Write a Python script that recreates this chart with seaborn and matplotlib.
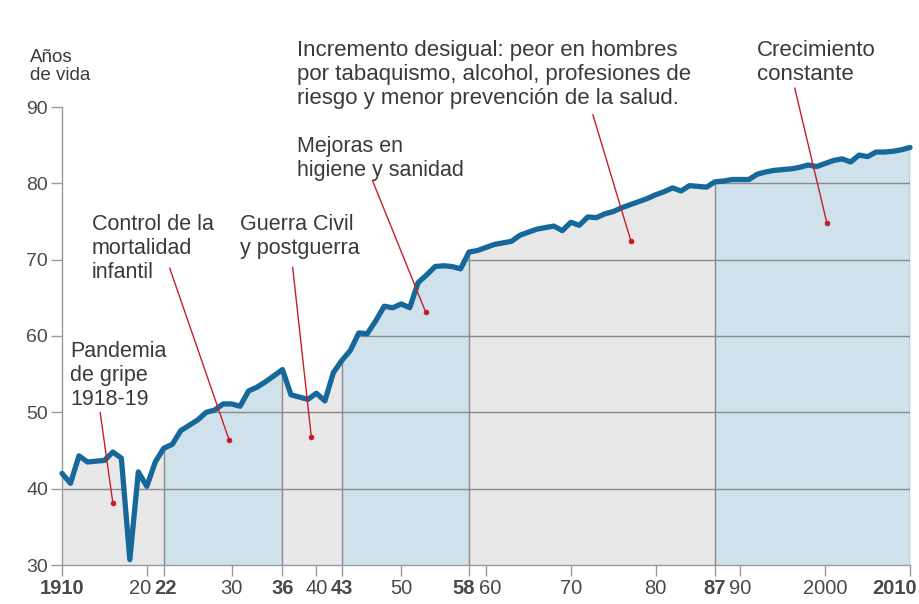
import matplotlib; matplotlib.use("Agg")
import matplotlib.pyplot as plt
import matplotlib.transforms as mtrans
import seaborn as sns
import numpy as np
import pandas as pd

# life expectancy in Spain
years = list(range(1910, 2011))
life = [
    42.0, 40.7, 44.3, 43.5, 43.6, 43.7, 44.8, 44.0, 30.7, 42.2,   # 1910-19
    40.3, 43.5, 45.3, 45.8, 47.6, 48.3, 49.0, 50.0, 50.3, 51.1,   # 1920-29
    51.1, 50.8, 52.8, 53.3, 54.0, 54.8, 55.6, 52.3, 52.0, 51.7,   # 1930-39
    52.5, 51.5, 55.2, 56.8, 58.1, 60.4, 60.3, 62.0, 63.9, 63.7,   # 1940-49
    64.2, 63.7, 67.0, 68.0, 69.1, 69.2, 69.1, 68.8, 71.0, 71.2,   # 1950-59
    71.6, 72.0, 72.2, 72.4, 73.2, 73.6, 74.0, 74.2, 74.4, 73.8,   # 1960-69
    74.9, 74.5, 75.6, 75.5, 76.0, 76.3, 76.8, 77.2, 77.6, 78.0,   # 1970-79
    78.5, 78.9, 79.4, 79.0, 79.7, 79.6, 79.5, 80.2, 80.3, 80.5,   # 1980-89
    80.5, 80.5, 81.2, 81.5, 81.7, 81.8, 81.9, 82.1, 82.4, 82.2,   # 1990-99
    82.6, 83.0, 83.2, 82.8, 83.7, 83.5, 84.1, 84.1, 84.2, 84.4,   # 2000-09
    84.7,                                                         # 2010
]

periods = [1910, 1922, 1936, 1943, 1958, 1987, 2010]
period_kind = ["gray", "blue", "gray", "blue", "gray", "blue"]

xtick_years = [1910, 1920, 1922, 1930, 1936, 1940, 1943, 1950, 1958, 1960,
               1970, 1980, 1987, 1990, 2000, 2010]
xtick_labels = ["1910", "20", "22", "30", "36", "40", "43", "50", "58", "60",
                "70", "80", "87", "90", "2000", "2010"]
bold_ticks = {1910, 1922, 1936, 1943, 1958, 1987, 2010}
ytick_vals = [30, 40, 50, 60, 70, 80, 90]

notes = [
    ("Pandemia\nde gripe\n1918-19", (1914.5, 50.0), (1916.0, 38.1)),
    ("Control de la\nmortalidad\ninfantil", (1922.7, 68.9), (1929.7, 46.4)),
    ("Guerra Civil\ny postguerra", (1937.2, 69.0), (1939.4, 46.8)),
    ("Mejoras en\nhigiene y sanidad", (1946.6, 80.4), (1952.9, 63.1)),
    ("Incremento desigual: peor en hombres\npor tabaquismo, alcohol, profesiones de\n"
     "riesgo y menor prevención de la salud.", (1972.6, 89.0), (1977.1, 72.4)),
    ("Crecimiento\nconstante", (1996.4, 92.5), (2000.2, 74.8)),
]
# text anchors (left, top) in pixels, and font size
note_px = [(70, 341), (92, 214), (240, 214), (297, 136), (297, 40), (757, 40)]
note_size = [15.5, 15.5, 15.5, 15.5, 16, 16]
# small nudges (px) for crowded x labels
xlab_shift = {1920: -7, 1922: 2, 1958: -5, 1960: 4, 2010: -15}

df = pd.DataFrame({"year": years, "life": life})

sns.set_style("white")
plt.rcParams["font.family"] = ["Liberation Sans", "DejaVu Sans"]

W, H = 919, 604
fig = plt.figure(figsize=(W / 100, H / 100), dpi=100)
ax = fig.add_axes([62 / W, 39 / H, (910 - 62) / W, (565 - 107) / H])
ax.set_xlim(1910, 2010)
ax.set_ylim(30, 90)

fills = {"gray": "#e8e8e8", "blue": "#cfe1eb"}
under = ax.fill_between(df.year, 30, df.life, color="none", lw=0)
clip = (under.get_paths()[0], ax.transData)
for a, b, kind in zip(periods[:-1], periods[1:], period_kind):
    seg = df[(df.year >= a) & (df.year <= b)]
    ax.fill_between(seg.year, 30, seg.life, color=fills[kind], lw=0, zorder=1)

# gridlines only inside the area under the curve
for v in ytick_vals[1:-1]:
    gl = ax.axhline(v, color="#8a8a8a", lw=1, zorder=2)
    gl.set_clip_path(*clip)
divs = df.set_index("year").loc[periods[1:], "life"]
ax.vlines(divs.index, 30, divs.values, color="#8a8a8a", lw=1, zorder=2)

sns.lineplot(data=df, x="year", y="life", ax=ax, color="#16689a", lw=3.8,
             zorder=4, clip_on=False, solid_joinstyle="round")

for spine in ["top", "right"]:
    ax.spines[spine].set_visible(False)
for spine in ["left", "bottom"]:
    ax.spines[spine].set_color("#9a9a9a")
    ax.spines[spine].set_linewidth(1)
    ax.spines[spine].set_zorder(3)

ax.set_xticks(xtick_years)
ax.set_xticklabels(xtick_labels)
ax.set_yticks(ytick_vals)
ax.set_yticklabels([str(v) for v in ytick_vals])
ax.tick_params(axis="both", direction="out", length=8, width=1, color="#9a9a9a",
               labelsize=14, labelcolor="#4a4a4a", pad=2, left=True, bottom=True)
for lab, yr in zip(ax.get_xticklabels(), xtick_years):
    lab.set_fontsize(14.5)
    if yr in bold_ticks:
        lab.set_fontweight("bold")
    if yr in xlab_shift:
        off = mtrans.ScaledTranslation(xlab_shift[yr] / 100, 0, fig.dpi_scale_trans)
        lab.set_transform(lab.get_transform() + off)
ax.set_xlabel("")
ax.set_ylabel("")

fig.text(30 / W, 1 - 49 / H, "Años\nde vida", fontsize=13.5, color="#3a3a3a",
         va="top", ha="left", linespacing=1.1)

for (txt, start, dot), (px, py), fs in zip(notes, note_px, note_size):
    fig.text(px / W, 1 - py / H, txt, fontsize=fs, color="#3a3a3a",
             va="top", ha="left", linespacing=1.2)
    ax.plot([start[0], dot[0]], [start[1], dot[1]], color="#c81e2a", lw=1,
            zorder=5, clip_on=False)
    ax.plot(dot[0], dot[1], "o", color="#c81e2a", ms=3, zorder=5)

fig.savefig("out.png", dpi=100)
